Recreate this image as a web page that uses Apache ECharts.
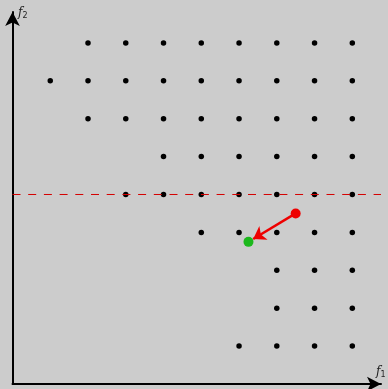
<!DOCTYPE html>
<html>
<head>
<meta charset="utf-8">
<script src="https://cdn.jsdelivr.net/npm/echarts@6/dist/echarts.min.js"></script>
<style>
  html, body { margin: 0; padding: 0; background: #cccccc; }
  #chart { width: 388px; height: 389px; }
</style>
</head>
<body>
<div id="chart"></div>
<script>
// Feasible lattice points: each row level (f2) lists the f1 columns that hold a point
const rowLevels = [9, 8, 7, 6, 5, 4, 3, 2, 1];
const rowColumns = [
  [2, 3, 4, 5, 6, 7, 8, 9],
  [1, 2, 3, 4, 5, 6, 7, 8, 9],
  [2, 3, 4, 5, 6, 7, 8, 9],
  [4, 5, 6, 7, 8, 9],
  [3, 4, 5, 6, 7, 8, 9],
  [5, 6, 7, 8, 9],
  [7, 8, 9],
  [7, 8, 9],
  [6, 7, 8, 9]
];
// Start point, projected point, and the horizontal constraint level
const startPoint = [7.5, 4.5];
const endPoint = [6.25, 3.75];
const constraintLevel = 5;

const lattice = [];
rowLevels.forEach((lvl, i) => rowColumns[i].forEach(c => lattice.push([c, lvl])));

// Pull the arrow tip back a little so it stops at the edge of the end marker
const tipFrac = 0.9;
const arrowTip = [
  startPoint[0] + (endPoint[0] - startPoint[0]) * tipFrac,
  startPoint[1] + (endPoint[1] - startPoint[1]) * tipFrac
];

const chart = echarts.init(document.getElementById('chart'), null, { renderer: 'canvas' });

const axisStyle = {
  show: true,
  symbol: ['none', 'arrow'],
  symbolSize: [11, 14],
  lineStyle: { color: '#000', width: 2 }
};

const labelRich = {
  f: { fontFamily: 'DejaVu Serif', fontStyle: 'italic', fontSize: 12, fill: '#222' },
  s: { fontFamily: 'DejaVu Sans', fontSize: 8, fill: '#222', padding: [6, 0, 0, 0] }
};

chart.setOption({
  backgroundColor: '#cccccc',
  animation: false,
  grid: { left: 12.5, right: 7, top: 12, bottom: 5, containLabel: false },
  xAxis: {
    type: 'value', min: 0, max: 9.76,
    axisLine: Object.assign({ onZero: false }, axisStyle),
    axisTick: { show: false }, axisLabel: { show: false }, splitLine: { show: false }
  },
  yAxis: {
    type: 'value', min: 0, max: 9.815,
    axisLine: Object.assign({ onZero: false }, axisStyle),
    axisTick: { show: false }, axisLabel: { show: false }, splitLine: { show: false }
  },
  graphic: [
    { type: 'text', left: 18, top: 7, style: { text: '{f|f}{s|2}', rich: labelRich } },
    { type: 'text', left: 376, top: 366, style: { text: '{f|f}{s|1}', rich: labelRich } }
  ],
  series: [
    {
      type: 'scatter',
      data: lattice,
      symbolSize: 5.5,
      itemStyle: { color: '#000', opacity: 1 },
      z: 2
    },
    {
      type: 'line',
      data: [[0, constraintLevel], [9.76, constraintLevel]],
      symbol: 'none',
      lineStyle: { color: '#d40000', width: 1, type: [8, 7.7] },
      z: 3,
      silent: true
    },
    {
      type: 'lines',
      coordinateSystem: 'cartesian2d',
      data: [{ coords: [startPoint, arrowTip] }],
      symbol: ['none', 'arrow'],
      symbolSize: [11, 12],
      lineStyle: { color: '#ee0000', width: 2.5, opacity: 1 },
      z: 4
    },
    {
      type: 'scatter',
      data: [startPoint],
      symbolSize: 10,
      itemStyle: { color: '#ee0000', opacity: 1 },
      z: 5
    },
    {
      type: 'scatter',
      data: [endPoint],
      symbolSize: 10,
      itemStyle: { color: '#1cb81c', opacity: 1 },
      z: 5
    }
  ]
});
</script>
</body>
</html>
